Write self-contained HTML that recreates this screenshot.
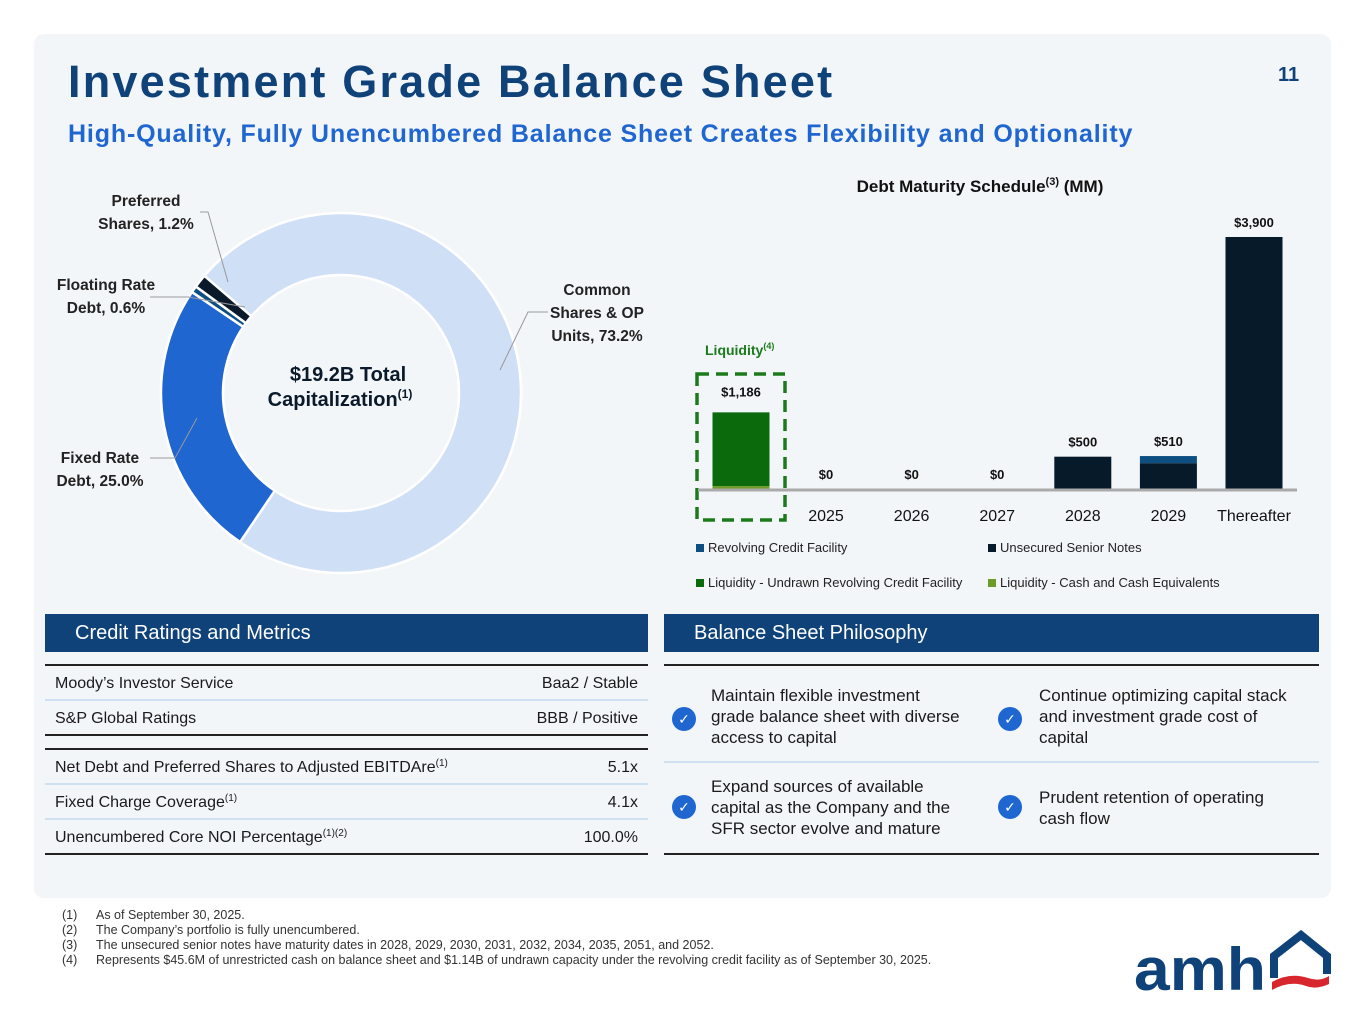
<!DOCTYPE html>
<html><head><meta charset="utf-8">
<style>
*{margin:0;padding:0;box-sizing:border-box}
body{width:1365px;height:1024px;background:#fff;font-family:"Liberation Sans","DejaVu Sans",sans-serif;position:relative;overflow:hidden;color:#1a1a1a}
.abs{position:absolute}
#panel{left:34px;top:34px;width:1297px;height:864px;background:#f3f6f9;border-radius:10px}
h1{position:absolute;left:68px;top:56px;font-size:45px;font-weight:900;color:#10427a;letter-spacing:2.2px}
.sub{left:68px;top:120px;font-size:25px;color:#1f66d1;font-weight:bold;letter-spacing:0.85px}
.hdr{background:#10427a;color:#fff;font-size:20px;height:38px;line-height:38px;padding-left:30px}
.row{font-size:16px;height:35px;line-height:35px;display:flex;justify-content:space-between;padding:0 10px;border-bottom:2px solid #cfe0f0}
sup{font-size:10px;line-height:0;vertical-align:6px}
.fn{font-size:12.5px;color:#333;line-height:15px}
.chk{width:24px;height:24px;border-radius:50%;background:#1f66d1;color:#fff;font-size:14px;text-align:center;line-height:24px;font-weight:bold}
.ph{font-size:17px;line-height:21px;color:#1a1a1a}
</style></head><body>
<div id="panel" class="abs"></div>
<h1>Investment Grade Balance Sheet</h1>
<div class="abs" style="left:1278px;top:64px;font-size:20px;font-weight:bold;color:#10427a">11</div>
<div class="abs sub">High-Quality, Fully Unencumbered Balance Sheet Creates Flexibility and Optionality</div>

<svg class="abs" style="left:0;top:160px" width="680" height="440" id="donut"></svg>
<svg class="abs" style="left:660px;top:160px" width="680" height="450" id="bars"></svg>

<div class="abs" style="left:45px;top:614px;width:603px">
 <div class="hdr">Credit Ratings and Metrics</div>
 <div style="height:12px"></div>
 <div style="border-top:2px solid #222"></div>
 <div class="row"><span>Moody’s Investor Service</span><span>Baa2 / Stable</span></div>
 <div class="row" style="border-bottom:2px solid #222"><span>S&amp;P Global Ratings</span><span>BBB / Positive</span></div>
 <div style="height:12px"></div>
 <div style="border-top:2px solid #222"></div>
 <div class="row"><span>Net Debt and Preferred Shares to Adjusted EBITDAre<sup>(1)</sup></span><span>5.1x</span></div>
 <div class="row"><span>Fixed Charge Coverage<sup>(1)</sup></span><span>4.1x</span></div>
 <div class="row" style="border-bottom:2px solid #222"><span>Unencumbered Core NOI Percentage<sup>(1)(2)</sup></span><span>100.0%</span></div>
</div>

<div class="abs" style="left:664px;top:614px;width:655px">
 <div class="hdr">Balance Sheet Philosophy</div>
 <div style="height:12px"></div>
 <div style="border-top:2px solid #222"></div>
 <div style="position:relative;height:97px;border-bottom:2px solid #cfe0f0">
  <div class="chk abs" style="left:8px;top:41px">✓</div>
  <div class="ph abs" style="left:47px;top:19px;width:252px">Maintain flexible investment grade balance sheet with diverse access to capital</div>
  <div class="chk abs" style="left:334px;top:41px">✓</div>
  <div class="ph abs" style="left:375px;top:19px;width:262px">Continue optimizing capital stack and investment grade cost of capital</div>
 </div>
 <div style="position:relative;height:92px;border-bottom:2px solid #222">
  <div class="chk abs" style="left:8px;top:32px">✓</div>
  <div class="ph abs" style="left:47px;top:13px;width:245px">Expand sources of available capital as the Company and the SFR sector evolve and mature</div>
  <div class="chk abs" style="left:334px;top:32px">✓</div>
  <div class="ph abs" style="left:375px;top:24px;width:250px">Prudent retention of operating cash flow</div>
 </div>
</div>

<div class="abs fn" style="left:62px;top:908px">
 <div><span style="display:inline-block;width:34px">(1)</span>As of September 30, 2025.</div>
 <div><span style="display:inline-block;width:34px">(2)</span>The Company’s portfolio is fully unencumbered.</div>
 <div><span style="display:inline-block;width:34px">(3)</span>The unsecured senior notes have maturity dates in 2028, 2029, 2030, 2031, 2032, 2034, 2035, 2051, and 2052.</div>
 <div><span style="display:inline-block;width:34px">(4)</span>Represents $45.6M of unrestricted cash on balance sheet and $1.14B of undrawn capacity under the revolving credit facility as of September 30, 2025.</div>
</div>

<svg class="abs" style="left:1130px;top:928px" width="205" height="70">
 <text x="4" y="62" font-family="Liberation Sans,sans-serif" font-weight="bold" font-size="60" fill="#10427a" textLength="132" lengthAdjust="spacingAndGlyphs">amh</text>
 <path d="M144 50 V28 L171 7 L197 28 V46" fill="none" stroke="#10427a" stroke-width="8"/>
 <path d="M142 54 Q160 44 178 50 Q190 54 199 48 L199 56 Q186 62 176 58 Q160 52 142 62 Z" fill="#d7262e"/>
</svg>

<script>
// Donut data
const capLabels=["Common Shares & OP Units","Fixed Rate Debt","Floating Rate Debt","Preferred Shares"];
const capValues=[73.2,25.0,0.6,1.2];
const capColors=["#cfdff6","#1f66d1","#0d4f80","#0a1a2a"];
// Bar data
const years=["2025","2026","2027","2028","2029","Thereafter"];
const revolving=[0,0,0,0,110,0];
const notes=[0,0,0,500,400,3900];
const liqUndrawn=1140.4;
const liqCash=45.6;
const totalLabels=["$0","$0","$0","$500","$510","$3,900"];

const NS="http://www.w3.org/2000/svg";
function mk(p,t,a){const e=document.createElementNS(NS,t);for(const k in a)e.setAttribute(k,a[k]);p.appendChild(e);return e;}

// Donut
(function(){
 const s=document.getElementById('donut');
 const cx=341,cy=233,R=180,r=118;
 const total=capValues.reduce((a,b)=>a+b,0);
 let ang=310.6;
 const pt=(a,rad)=>[cx+rad*Math.sin(a*Math.PI/180),cy-rad*Math.cos(a*Math.PI/180)];
 capValues.forEach((v,i)=>{
  const sweep=v/total*360, a0=ang, a1=ang+sweep; ang=a1;
  const lg=sweep>180?1:0;
  const [x0,y0]=pt(a0,R),[x1,y1]=pt(a1,R),[x2,y2]=pt(a1,r),[x3,y3]=pt(a0,r);
  const p=mk(s,'path',{d:`M${x0},${y0} A${R},${R} 0 ${lg} 1 ${x1},${y1} L${x2},${y2} A${r},${r} 0 ${lg} 0 ${x3},${y3}Z`,fill:capColors[i],stroke:'#fff','stroke-width':2.5});
  
  
 });
 const lines=[[500,210,528,152,548,152],[197,258,175,298,150,298],[245,147,188,137,150,137],[228,122,208,52,200,52]];
 lines.forEach(l=>{mk(s,'polyline',{points:`${l[0]},${l[1]} ${l[2]},${l[3]} ${l[4]},${l[5]}`,fill:'none',stroke:'#999','stroke-width':1});});
 const lbl=[[597,135,"Common"],[597,158,"Shares & OP"],[597,181,"Units, 73.2%"],[100,303,"Fixed Rate"],[100,326,"Debt, 25.0%"],[106,130,"Floating Rate"],[106,153,"Debt, 0.6%"],[146,46,"Preferred"],[146,69,"Shares, 1.2%"]];
 lbl.forEach(t=>{const e=mk(s,'text',{x:t[0],y:t[1],'text-anchor':'middle','font-size':15.5,'font-weight':'bold',fill:'#222'});e.textContent=t[2];
  
  });
 let e=mk(s,'text',{x:348,y:221,'text-anchor':'middle','font-size':20,'font-weight':'bold',fill:'#0a1a2a'});e.textContent="$19.2B Total";
 e=mk(s,'text',{x:340,y:246,'text-anchor':'middle','font-size':20,'font-weight':'bold',fill:'#0a1a2a'});e.innerHTML='Capitalization<tspan font-size="12" dy="-8">(1)</tspan>';
 
 
})();

// Bars (svg offset left 660, top 160)
(function(){
 const s=document.getElementById('bars');
 const base=329, k=252/3900, bw=57;
 const y=v=>base-v*k;
 const xc=i=>166+i*85.6;
 let t=mk(s,'text',{x:320,y:32,'text-anchor':'middle','font-size':17,'font-weight':'bold',fill:'#111'});
 t.innerHTML='Debt Maturity Schedule<tspan font-size="11" dy="-7">(3)</tspan><tspan dy="7"> (MM)</tspan>';
 const lx=81;
 let r=mk(s,'rect',{x:lx-bw/2,y:y(liqCash+liqUndrawn),width:bw,height:liqUndrawn*k,fill:'#0b6a0b'});
 
 
 r=mk(s,'rect',{x:lx-bw/2,y:y(liqCash),width:bw,height:liqCash*k,fill:'#6e9a2a'});
 
 
 t=mk(s,'text',{x:lx,y:y(liqCash+liqUndrawn)-16,'text-anchor':'middle','font-size':13,'font-weight':'bold',fill:'#111'});t.textContent='$'+Math.round(liqCash+liqUndrawn).toLocaleString('en-US');
 mk(s,'rect',{x:37,y:214,width:88,height:146,fill:'none',stroke:'#1c7a1c','stroke-width':3.5,'stroke-dasharray':'12,7'});
 t=mk(s,'text',{x:45,y:195,'font-size':14,'font-weight':'bold',fill:'#1c7a1c'});t.innerHTML='Liquidity<tspan font-size="9" dy="-6">(4)</tspan>';
 years.forEach((yr,i)=>{
  const x=xc(i);
  if(notes[i]>0){const b=mk(s,'rect',{x:x-bw/2,y:y(notes[i]),width:bw,height:notes[i]*k,fill:'#061a29'});
   
   }
  if(revolving[i]>0){const b=mk(s,'rect',{x:x-bw/2,y:y(notes[i]+revolving[i]),width:bw,height:revolving[i]*k,fill:'#0d4f80'});
   
   }
  const tt=mk(s,'text',{x:x,y:y(notes[i]+revolving[i])-10,'text-anchor':'middle','font-size':13,'font-weight':'bold',fill:'#111'});tt.textContent=totalLabels[i];
  const xl=mk(s,'text',{x:x,y:361,'text-anchor':'middle','font-size':16,fill:'#111'});xl.textContent=yr;
  
  
 });
 mk(s,'line',{x1:38,x2:637,y1:base+1,y2:base+1,stroke:'#aaa','stroke-width':3});
 const leg=[[36,392,'#0d4f80','Revolving Credit Facility'],[328,392,'#061a29','Unsecured Senior Notes'],[36,427,'#0b6a0b','Liquidity - Undrawn Revolving Credit Facility'],[328,427,'#6e9a2a','Liquidity - Cash and Cash Equivalents']];
 leg.forEach(l=>{const g=mk(s,'g',{});
  
  
  mk(g,'rect',{x:l[0],y:l[1]-8,width:8,height:8,fill:l[2]});
  const e=mk(g,'text',{x:l[0]+12,y:l[1],'font-size':13,fill:'#222'});e.textContent=l[3];});
})();
</script>
</body></html>
